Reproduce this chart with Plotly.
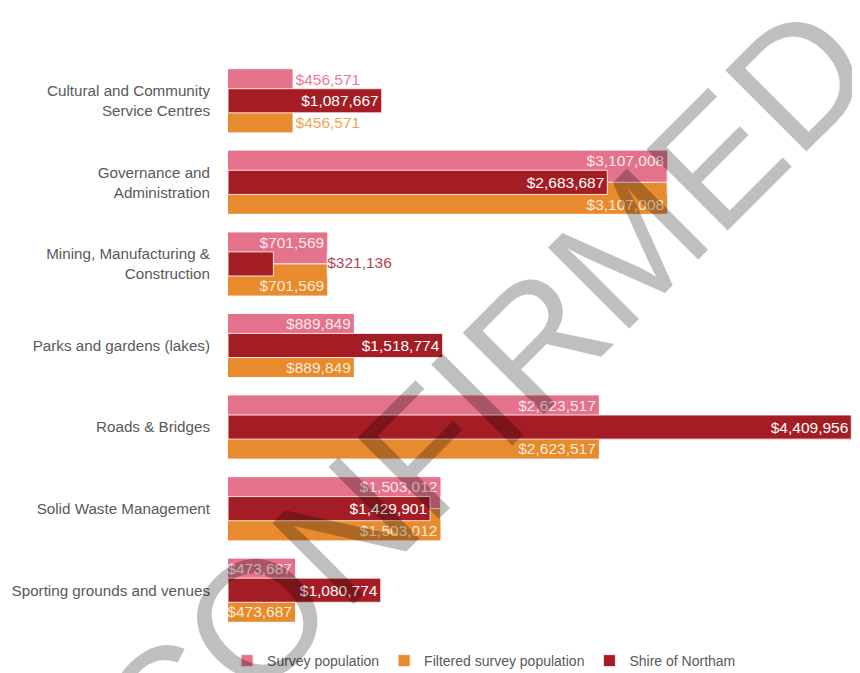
import plotly.graph_objects as go

categories = [
    "Cultural and Community<br>Service Centres",
    "Governance and<br>Administration",
    "Mining, Manufacturing &<br>Construction",
    "Parks and gardens (lakes)",
    "Roads & Bridges",
    "Solid Waste Management",
    "Sporting grounds and venues",
]
survey_population = [456571, 3107008, 701569, 889849, 2623517, 1503012, 473687]
filtered_survey_population = [456571, 3107008, 701569, 889849, 2623517, 1503012, 473687]
shire_of_northam = [1087667, 2683687, 321136, 1518774, 4409956, 1429901, 1080774]

PINK = "#e3728a"
ORANGE = "#e88a2e"
DARKRED = "#a51d24"
FONT = "Liberation Sans, Arial, sans-serif"
BORDER = dict(color="rgba(255,236,236,0.95)", width=1)
VAL_SIZE = 15.5

HALF = 0.386      # half of a category group
MID = 0.148       # half of the overlaid middle bar


def money(v):
    return "${:,.0f}".format(v)


def positions(values, threshold):
    return ["inside" if v >= threshold else "outside" for v in values]


fig = go.Figure()

# Survey population fill (top half of each group)
fig.add_trace(go.Bar(
    name="Survey population", orientation="h", legendgroup="s",
    y=categories, x=survey_population,
    offset=-HALF, width=HALF,
    marker=dict(color=PINK, line=BORDER), hoverinfo="skip",
))
# Filtered survey population fill (bottom half of each group)
fig.add_trace(go.Bar(
    name="Filtered survey population", orientation="h", legendgroup="f",
    y=categories, x=filtered_survey_population,
    offset=0.0, width=HALF,
    marker=dict(color=ORANGE, line=BORDER), hoverinfo="skip",
))
# Label carriers on the visible parts of the pink / orange bars
fig.add_trace(go.Bar(
    name="Survey population", orientation="h", legendgroup="s", showlegend=False,
    y=categories, x=survey_population,
    offset=-HALF, width=HALF - MID,
    marker=dict(color=PINK, line=dict(width=0)),
    text=[money(v) for v in survey_population],
    textposition=positions(survey_population, 470000),
    insidetextanchor="end",
    insidetextfont=dict(color="#fde9ee", family=FONT, size=VAL_SIZE),
    outsidetextfont=dict(color="#e87b95", family=FONT, size=VAL_SIZE),
    constraintext="none", cliponaxis=False,
))
fig.add_trace(go.Bar(
    name="Filtered survey population", orientation="h", legendgroup="f", showlegend=False,
    y=categories, x=filtered_survey_population,
    offset=MID, width=HALF - MID,
    marker=dict(color=ORANGE, line=dict(width=0)),
    text=[money(v) for v in filtered_survey_population],
    textposition=positions(filtered_survey_population, 470000),
    insidetextanchor="end",
    insidetextfont=dict(color="#fdecd6", family=FONT, size=VAL_SIZE),
    outsidetextfont=dict(color="#eea455", family=FONT, size=VAL_SIZE),
    constraintext="none", cliponaxis=False,
))

# Shire of Northam (overlaid in the middle)
shire_inside = [v >= 470000 for v in shire_of_northam]
fig.add_trace(go.Bar(
    name="Shire of Northam", orientation="h",
    y=categories, x=shire_of_northam,
    offset=-MID, width=2 * MID,
    marker=dict(color=DARKRED, line=BORDER),
    text=[money(v) if ok else "" for v, ok in zip(shire_of_northam, shire_inside)],
    textposition="inside",
    insidetextanchor="end",
    insidetextfont=dict(color="#ffffff", family=FONT, size=VAL_SIZE),
    constraintext="none", cliponaxis=False,
))

# Labels of short Shire bars placed beyond the group's longest bar
out_y = [c for c, ok in zip(categories, shire_inside) if not ok]
out_x = [max(a, b) for a, b, ok in zip(survey_population, filtered_survey_population, shire_inside) if not ok]
out_t = [money(v) for v, ok in zip(shire_of_northam, shire_inside) if not ok]
fig.add_trace(go.Scatter(
    x=out_x, y=out_y, text=out_t, mode="text",
    textposition="middle right",
    textfont=dict(color="#b0474f", family=FONT, size=VAL_SIZE),
    showlegend=False, hoverinfo="skip", cliponaxis=False,
))

# Watermark
fig.add_annotation(
    text="CONFIRMED", xref="paper", yref="paper",
    x=0.4087, y=0.4168, showarrow=False, textangle=-45,
    font=dict(family=FONT, size=167, color="rgba(0,0,0,0.25)"),
)

fig.update_layout(
    barmode="overlay",
    width=860, height=673,
    margin=dict(l=220, r=16, t=52, b=50, autoexpand=False),
    paper_bgcolor="white", plot_bgcolor="white",
    font=dict(family=FONT, color="#595959"),
    xaxis=dict(range=[0, 4415000], visible=False, fixedrange=True),
    yaxis=dict(
        type="category", range=[6.5, -0.5],
        showgrid=False, zeroline=False, showline=False, ticks="",
        ticklabelstandoff=17,
        tickfont=dict(family=FONT, size=15.2, color="#595959"),
    ),
    legend=dict(
        orientation="h", xref="container", yref="container",
        x=0.2547, xanchor="left", y=0.0297, yanchor="middle",
        font=dict(family=FONT, size=14, color="#595959"),
        traceorder="normal", itemwidth=30,
    ),
    showlegend=True,
)

fig.write_html("out.html")
